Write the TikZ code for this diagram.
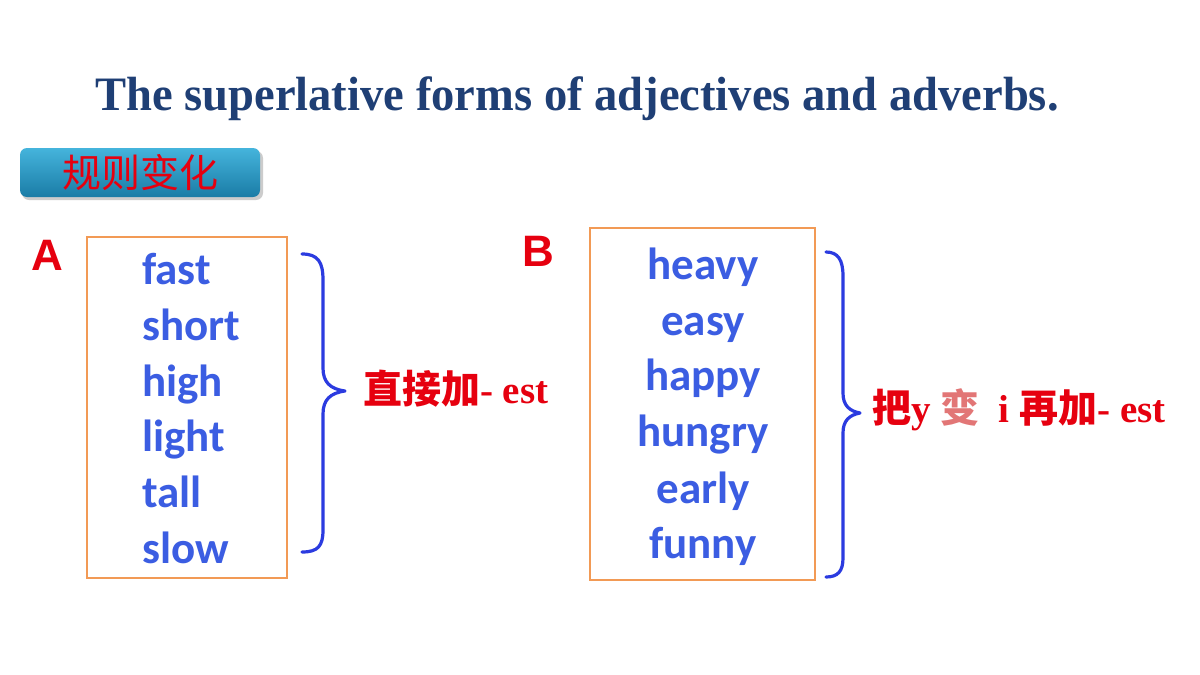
\documentclass[tikz,border=0pt]{standalone}
\usepackage{fontspec}
\setmainfont{Liberation Serif}
\newfontfamily\cjk{Noto Sans CJK SC}
\newfontfamily\wordfont{Carlito}
\newfontfamily\sansb{Liberation Sans}
\definecolor{titleblue}{HTML}{1F3F75}
\definecolor{wordblue}{HTML}{3B5DE2}
\definecolor{braceblue}{HTML}{2B3BE0}
\definecolor{boxorange}{HTML}{F29A55}
\definecolor{rulered}{HTML}{E6000F}
\definecolor{pinkred}{HTML}{E27676}
\definecolor{btntop}{HTML}{45B4DC}
\definecolor{btnbot}{HTML}{1A7CA6}
\tikzset{
  wordbox/.style={draw=boxorange, line width=2.4pt, inner sep=0pt},
  word/.style={font=\wordfont\bfseries\fontsize{45}{45}\selectfont, text=wordblue, inner sep=0pt},
  letter/.style={font=\sansb\bfseries\fontsize{44}{44}\selectfont, text=rulered, inner sep=0pt},
  bracestyle/.style={draw=braceblue, line width=3.2pt, line cap=round, line join=round},
  rulelabel/.style={font=\bfseries\fontsize{39}{39}\selectfont, text=rulered, inner sep=0pt, anchor=base west},
  button/.style={rounded corners=7pt, minimum width=240pt, minimum height=49pt, top color=btntop, bottom color=btnbot, inner sep=0pt, font=\cjk\fontsize{39}{39}\selectfont, text=rulered}
}
\begin{document}
\begin{tikzpicture}[x=1pt,y=-1pt]
\useasboundingbox[fill=white] (0,0) rectangle (1200,675);
% title
\node[anchor=base, inner sep=0pt, text=titleblue, font=\bfseries\fontsize{48}{48}\selectfont] (title) at (577,110) {\scalebox{0.97}[1]{The superlative forms of adjectives and adverbs.}};
% button
\fill[black!20, rounded corners=7pt] (22,151) rectangle (263,200);
\node[button] (rule) at (140,172.5) {规则变化};
% letters
\node[letter, anchor=base] (A) at (47,270) {A};
\node[letter, anchor=base] (B) at (538,266) {B};
% boxes
\node[wordbox, minimum width=200pt, minimum height=341pt] (boxA) at (187,407.5) {};
\node[wordbox, minimum width=225pt, minimum height=352pt] (boxB) at (702.5,404) {};
% words A
\node[word, anchor=base west] (a1) at (142,284) {fast};
\node[word, anchor=base west] (a2) at (142,340) {short};
\node[word, anchor=base west] (a3) at (142,396) {high};
\node[word, anchor=base west] (a4) at (142,451) {light};
\node[word, anchor=base west] (a5) at (142,507) {tall};
\node[word, anchor=base west] (a6) at (142,563) {slow};
% words B
\node[word, anchor=base] (b1) at (703,279) {heavy};
\node[word, anchor=base] (b2) at (703,335) {easy};
\node[word, anchor=base] (b3) at (703,390) {happy};
\node[word, anchor=base] (b4) at (703,446) {hungry};
\node[word, anchor=base] (b5) at (703,503) {early};
\node[word, anchor=base] (b6) at (703,558) {funny};
% braces
\draw[bracestyle] (302,254) .. controls (318,254) and (323,262) .. (323,280) -- (323,368)
  .. controls (323,382) and (330,389) .. (345,391)
  .. controls (330,393) and (323,400) .. (323,414) -- (323,530)
  .. controls (323,546) and (318,552) .. (302,552);
\draw[bracestyle] (826,252) .. controls (838,252) and (843,260) .. (843,276) -- (843,393)
  .. controls (843,405) and (849,411) .. (860,413)
  .. controls (849,415) and (843,421) .. (843,433) -- (843,558)
  .. controls (843,571) and (838,577) .. (826,577);
% rule labels
\node[rulelabel] (ruleA) at (363,403) {{\cjk 直接加}- est};
\node[rulelabel] (ruleB) at (872,422) {{\cjk 把}y {\cjk\color{pinkred}变}\ \ i {\cjk 再加}- est};
\end{tikzpicture}
\end{document}
